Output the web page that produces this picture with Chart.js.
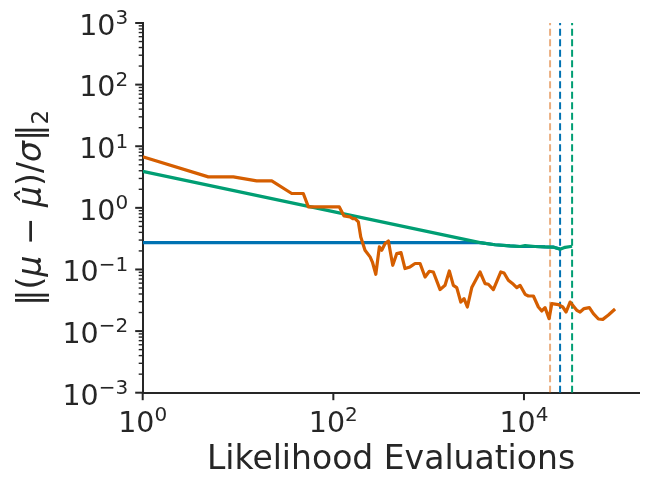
<!DOCTYPE html>
<html>
<head>
<meta charset="utf-8">
<script src="https://cdn.jsdelivr.net/npm/chart.js@4/dist/chart.umd.min.js"></script>
<style>
  html, body { margin: 0; padding: 0; background: #fff; }
</style>
</head>
<body>
<canvas id="chart" width="648" height="487"></canvas>
<script>
// orange run: likelihood evaluations vs error
const orangeX = [1, 4.88, 8.93, 15.7, 22.6, 36.6, 48.4, 54.7, 115.6, 129.5, 149.7, 159.9, 169, 183, 194, 215, 243, 257, 279, 304,
  322, 349, 378, 420, 463, 513, 565, 638, 720, 813, 917, 1017, 1120, 1318, 1486, 1648, 1816, 1972, 2172, 2351,
  2547, 2833, 3460, 3908, 4230, 4775, 5715, 6180, 6855, 7745, 8400, 9100, 10280, 11120, 12560, 14160, 15380, 16640,
  18340, 19590, 22960, 25530, 27670, 30470, 35810, 38810, 42740, 48540, 53480, 60390, 67140, 76910, 90360];
const orangeY = [6.73, 3.18, 3.18, 2.74, 2.74, 1.71, 1.71, 1.035, 1.035, 0.74, 0.713, 0.671, 0.671, 0.592, 0.337, 0.205, 0.160, 0.132, 0.0836, 0.232,
  0.205, 0.264, 0.290, 0.117, 0.181, 0.188, 0.1035, 0.110, 0.125, 0.125, 0.0755, 0.0935, 0.091, 0.0471, 0.0553, 0.0947, 0.0553, 0.0508, 0.0296, 0.0336,
  0.0246, 0.0508, 0.091, 0.059, 0.0575, 0.0471, 0.091, 0.0877, 0.0668, 0.0575, 0.0508, 0.0553, 0.0395, 0.0371, 0.0371, 0.0246, 0.0212, 0.024,
  0.0159, 0.0279, 0.0269, 0.0246, 0.0204, 0.0296, 0.0217, 0.0204, 0.0232, 0.024, 0.0192, 0.0157, 0.0155, 0.0182, 0.0228];

// green run
const greenX = [1, 3460, 4977, 7145, 9100, 10280, 13090, 16640, 20190, 23930, 27030, 31990];
const greenY = [3.90, 0.272, 0.252, 0.241, 0.236, 0.244, 0.236, 0.232, 0.231, 0.213, 0.229, 0.238];

// blue run (hidden under green once they meet)
const blueX = [1, 3460, 4977, 7145, 9100, 13090, 16640, 20190, 23930];
const blueY = [0.272, 0.272, 0.252, 0.241, 0.236, 0.236, 0.232, 0.231, 0.215];

// where each run stopped (dashed verticals): orange, blue, green
const stopX = [18790, 23930, 31990];

const xTicks = [1, 100, 10000];
const yDecades = [-3, -2, -1, 0, 1, 2, 3];
const yTicks = [];
yDecades.forEach(function(d) {
    for (let m = 1; m <= 9; m++) {
        if (d === 3 && m > 1) break;
        yTicks.push(m * Math.pow(10, d));
    }
});

const xTitle = 'Likelihood Evaluations';
// y label pieces: [text, italic?, subscript?]
const yTitleParts = [['‖(', false, false], ['μ', true, false], [' − ', false, false], ['μ\u0302', true, false],
    [')/', false, false], ['σ', true, false], ['‖', false, false], ['2', false, true]];

const ORANGE = '#d55e00';
const BLUE = '#0072b2';
const GREEN = '#009e73';
const INK = '#262626';
const FONT = 'DejaVu Sans';
const TICK_SIZE = 28.5;
const SUP_SIZE = 20;
const TITLE_SIZE = 33;

function pts(xs, ys) {
    return xs.map(function(x, i) { return { x: x, y: ys[i] }; });
}

function isMajor(v) {
    const l = Math.log10(v);
    return Math.abs(l - Math.round(l)) < 1e-9;
}

function exponent(v) {
    return String(Math.round(Math.log10(v))).replace('-', '\u2212');
}

function font(size, italic) {
    return (italic ? 'italic ' : '') + size + 'px "' + FONT + '"';
}

// "10" with a raised exponent, like the mathtext labels
function drawPow(ctx, v, x, baseline, align) {
    ctx.font = font(TICK_SIZE);
    const wBase = ctx.measureText('10').width;
    ctx.font = font(SUP_SIZE);
    const exp = exponent(v);
    const wExp = ctx.measureText(exp).width;
    const total = wBase + wExp;
    let start = x;
    if (align === 'center') start = x - total / 2;
    if (align === 'right') start = x - total;
    ctx.textAlign = 'left';
    ctx.textBaseline = 'alphabetic';
    ctx.font = font(TICK_SIZE);
    ctx.fillText('10', start, baseline);
    ctx.font = font(SUP_SIZE);
    ctx.fillText(exp, start + wBase, baseline - 10.5);
}

// outward tick marks (long on decades), decade labels and the y label
const logAxes = {
    id: 'logAxes',
    afterDraw: function(chart) {
        const ctx = chart.ctx;
        const xs = chart.scales.x;
        const ys = chart.scales.y;
        const area = chart.chartArea;
        ctx.save();
        ctx.strokeStyle = INK;
        ctx.fillStyle = INK;
        xs.ticks.forEach(function(t) {
            const px = xs.getPixelForValue(t.value);
            const major = isMajor(t.value);
            ctx.lineWidth = major ? 2 : 1.4;
            ctx.beginPath();
            ctx.moveTo(px, area.bottom);
            ctx.lineTo(px, area.bottom + (major ? 7.5 : 4));
            ctx.stroke();
            if (major) drawPow(ctx, t.value, px, area.bottom + 39, 'center');
        });
        ys.ticks.forEach(function(t) {
            const py = ys.getPixelForValue(t.value);
            const major = isMajor(t.value);
            ctx.lineWidth = major ? 2 : 1.4;
            ctx.beginPath();
            ctx.moveTo(area.left, py);
            ctx.lineTo(area.left - (major ? 7.5 : 4), py);
            ctx.stroke();
            if (major) drawPow(ctx, t.value, area.left - 14.5, py + 11.8, 'right');
        });

        // rotated y label with italic symbols and subscript
        let total = 0;
        const widths = yTitleParts.map(function(p) {
            ctx.font = font(p[2] ? TITLE_SIZE * 0.7 : TITLE_SIZE, p[1]);
            const w = ctx.measureText(p[0]).width;
            total += w;
            return w;
        });
        ctx.translate(40.5, (area.top + area.bottom) / 2);
        ctx.rotate(-Math.PI / 2);
        ctx.textAlign = 'left';
        ctx.textBaseline = 'alphabetic';
        let cx = -total / 2;
        yTitleParts.forEach(function(p, i) {
            ctx.font = font(p[2] ? TITLE_SIZE * 0.7 : TITLE_SIZE, p[1]);
            ctx.fillText(p[0], cx, p[2] ? 7.5 : 0);
            cx += widths[i];
        });
        ctx.restore();
    }
};

const solid = { borderWidth: 3.2, pointRadius: 0, tension: 0, borderJoinStyle: 'round', fill: false };
const dashed = { borderWidth: 2, pointRadius: 0, borderDash: [7, 3.5], fill: false };

new Chart(document.getElementById('chart'), {
    type: 'line',
    data: {
        datasets: [
            Object.assign({ label: 'orange', data: pts(orangeX, orangeY), borderColor: ORANGE }, solid),
            Object.assign({ label: 'green', data: pts(greenX, greenY), borderColor: GREEN }, solid),
            Object.assign({ label: 'blue', data: pts(blueX, blueY), borderColor: BLUE }, solid),
            Object.assign({ label: 'orange stop', data: pts([stopX[0], stopX[0]], [1e-3, 1e3]), borderColor: 'rgba(213,94,0,0.5)' }, dashed),
            Object.assign({ label: 'blue stop', data: pts([stopX[1], stopX[1]], [1e-3, 1e3]), borderColor: BLUE }, dashed),
            Object.assign({ label: 'green stop', data: pts([stopX[2], stopX[2]], [1e-3, 1e3]), borderColor: GREEN }, dashed)
        ]
    },
    options: {
        responsive: false,
        animation: false,
        devicePixelRatio: 1,
        layout: { padding: { left: 0, top: 23, right: 8.7, bottom: 0 } },
        plugins: {
            legend: { display: false },
            tooltip: { enabled: false }
        },
        scales: {
            x: {
                type: 'logarithmic',
                min: 1,
                max: Math.pow(10, 5.21),
                grid: { display: false, drawTicks: false },
                border: { display: true, color: INK, width: 2 },
                afterBuildTicks: function(scale) {
                    scale.ticks = xTicks.map(function(v) { return { value: v }; });
                },
                afterFit: function(scale) { scale.height = 94.3; },
                ticks: { display: false, autoSkip: false },
                title: {
                    display: true,
                    text: xTitle,
                    color: INK,
                    font: { family: FONT, size: TITLE_SIZE },
                    padding: { top: 0, bottom: 7 }
                }
            },
            y: {
                type: 'logarithmic',
                min: 1e-3,
                max: 1e3,
                grid: { display: false, drawTicks: false },
                border: { display: true, color: INK, width: 2 },
                afterBuildTicks: function(scale) {
                    scale.ticks = yTicks.map(function(v) { return { value: v }; });
                },
                afterFit: function(scale) { scale.width = 142.7; },
                ticks: { display: false, autoSkip: false },
                title: { display: false }
            }
        }
    },
    plugins: [logAxes]
});
</script>
</body>
</html>
